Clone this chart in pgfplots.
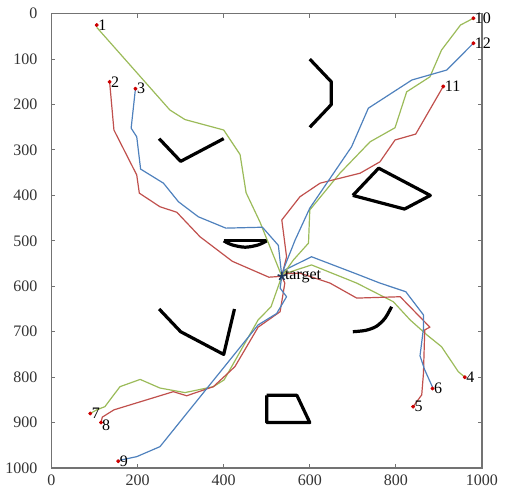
\documentclass[border=0pt]{standalone}
\usepackage{fontspec}
\setmainfont{Liberation Serif}
\usepackage{pgfplots}
\pgfplotsset{compat=1.18}
\definecolor{pg}{HTML}{9BBB59}
\definecolor{pr}{HTML}{C0504D}
\definecolor{pb}{HTML}{4F81BD}
\definecolor{tgt}{HTML}{1F3A5F}
\begin{document}
\begin{tikzpicture}
\useasboundingbox (0,0) rectangle (255pt,251.5pt);
\begin{axis}[
 at={(25.75pt,17.5pt)}, anchor=south west,
 scale only axis, width=215.25pt, height=227.15pt,
 xmin=0,xmax=1000,ymin=0,ymax=1000, y dir=reverse,
 xtick={0,200,...,1000}, ytick={0,100,...,1000},
 tick align=inside, major tick length=2pt,
 axis line style={black!55, line width=0.6pt},
 tick style={black!55, line width=0.5pt},
 ticklabel style={font=\fontsize{8}{9}\selectfont, text=black!80},
 /pgf/number format/assume math mode=true,
 scaled ticks=false, /pgf/number format/set thousands separator={},
 yticklabel style={xshift=-3.5pt},
 clip=false,
 every axis plot/.append style={line join=round},
]
% obstacles
\addplot[black, line width=1.6pt] coordinates {(250,275) (300,325) (400,275)};
\addplot[black, line width=1.6pt] coordinates {(600,100) (650,150) (650,200) (600,250)};
\addplot[black, line width=1.6pt] coordinates {(700,400) (760,340) (880,400) (820,430) (700,400)};
\addplot[black, line width=1.6pt, smooth] coordinates {(400,500) (420,509) (450,514) (480,509) (500,500)};
\addplot[black, line width=1.4pt] coordinates {(400,500) (500,500)};
\addplot[black, line width=1.6pt, smooth] coordinates {(700,700) (730,697) (755,688) (775,670) (790,645)};
\addplot[black, line width=1.6pt] coordinates {(250,650) (300,700) (400,750) (425,650)};
\addplot[black, line width=1.6pt] coordinates {(500,840) (570,840) (600,900) (500,900) (500,840)};
% paths
\addplot[pg, line width=0.6pt] coordinates {(105,30) (275,212) (310,233) (400,256) (438,310) (452,394) (484,458) (535,578)};
\addplot[pr, line width=0.6pt] coordinates {(135,150) (145,256) (198,355) (204,395) (252,425) (291,437) (345,491) (420,545) (505,580) (535,578)};
\addplot[pb, line width=0.6pt] coordinates {(195,165) (185,252) (198,271) (207,342) (260,373) (295,414) (341,447) (405,472) (490,470) (527,510) (535,578)};
\addplot[pg, line width=0.6pt] coordinates {(960,800) (945,788) (906,733) (872,707) (833,674) (794,634) (709,593) (604,553) (546,571) (535,578)};
\addplot[pr, line width=0.6pt] coordinates {(840,865) (860,839) (864,792) (867,696) (879,690) (810,623) (709,626) (647,593) (577,571) (546,572) (535,578)};
\addplot[pb, line width=0.6pt] coordinates {(885,822) (867,784) (856,753) (864,693) (864,663) (823,612) (763,593) (709,573) (604,535) (542,564) (535,578)};
\addplot[pg, line width=0.6pt] coordinates {(90,880) (105,872) (124,865) (159,821) (206,805) (252,824) (310,834) (376,821) (401,806) (480,674) (510,645) (535,578)};
\addplot[pr, line width=0.6pt] coordinates {(115,900) (118,888) (145,872) (283,832) (314,841) (376,821) (426,777) (480,690) (531,656) (542,593) (535,578)};
\addplot[pb, line width=0.6pt] coordinates {(158,983) (198,975) (252,953) (314,880) (480,685) (523,660) (546,623) (531,604) (535,578)};
\addplot[pg, line width=0.6pt] coordinates {(980,10) (950,25) (906,80) (879,139) (825,172) (798,251) (740,282) (670,351) (600,432) (597,505) (562,542) (535,578)};
\addplot[pr, line width=0.6pt] coordinates {(910,160) (846,265) (798,278) (763,326) (717,351) (624,373) (577,403) (535,454) (546,535) (535,578)};
\addplot[pb, line width=0.6pt] coordinates {(980,65) (918,124) (837,146) (736,208) (697,293) (600,428) (566,498) (540,560) (535,578)};
% start points with labels
\addplot[only marks, mark=*, mark size=0.8pt, color=red!80!black,
  nodes near coords, point meta=explicit symbolic,
  every node near coord/.style={anchor=west, inner sep=0.6pt, text=black, font=\fontsize{8}{9}\selectfont}]
  table[meta=lab] {
x y lab
105 25 1
135 150 2
195 165 3
960 800 4
840 865 5
885 825 6
90 880 7
155 985 9
980 10 10
910 160 11
980 65 12
};
\addplot[only marks, mark=*, mark size=0.8pt, color=red!80!black,
  nodes near coords, point meta=explicit symbolic,
  every node near coord/.style={anchor=north west, inner sep=0.3pt, yshift=2pt, text=black, font=\fontsize{8}{9}\selectfont}]
  table[meta=lab] {
x y lab
115 900 8
};
% target
\addplot[only marks, mark=star, mark size=2.2pt, color=tgt, line width=0.8pt,
  nodes near coords, point meta=explicit symbolic,
  every node near coord/.style={anchor=west, inner sep=1.2pt, text=black, font=\fontsize{8}{9}\selectfont}]
  table[meta=lab] {
x y lab
535 578 target
};
\end{axis}
\end{tikzpicture}
\end{document}
